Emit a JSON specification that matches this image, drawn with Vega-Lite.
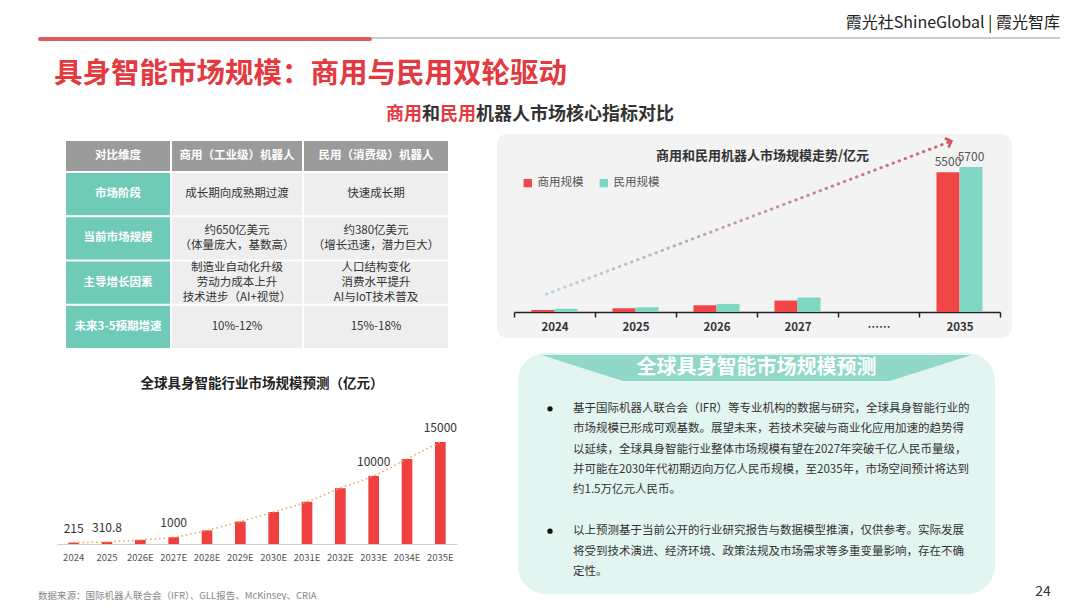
{
  "$schema": "https://vega.github.io/schema/vega-lite/v6.json",
  "background": "white",
  "padding": {"left": 38, "top": 15, "right": 0, "bottom": 0},
  "config": {
    "font": "Noto Sans CJK SC",
    "view": {"stroke": null},
    "concat": {"spacing": 0},
    "title": {"font": "Noto Sans CJK SC"},
    "axis": {"labelFont": "Noto Sans CJK SC", "titleFont": "Noto Sans CJK SC"},
    "legend": {"labelFont": "Noto Sans CJK SC"}
  },
  "resolve": {"scale": {"color": "independent"}, "legend": {"color": "independent"}},
  "spacing": 0,
  "vconcat": [
    {
      "spacing": 0,
      "hconcat": [
        {"width": 334, "height": 4, "view": {"fill": "#e05a5a", "cornerRadius": 2}, "data": {"values": []}, "mark": "point"},
        {
          "width": 688, "height": 2, "view": {"fill": "#cccccc"},
          "title": {"text": "霞光社ShineGlobal | 霞光智库", "anchor": "end", "frame": "group", "fontSize": 16, "fontWeight": "normal", "color": "#222222", "offset": 6},
          "data": {"values": []}, "mark": "point"
        }
      ]
    },
    {"width": 1, "height": 18, "data": {"values": []}, "mark": "point"},
    {
      "width": 984, "height": 20,
      "title": {"text": "具身智能市场规模：商用与民用双轮驱动", "anchor": "start", "frame": "group", "dx": 16, "offset": 17, "fontSize": 28.5, "fontWeight": "bold", "color": "#e4393f"},
      "data": {"values": [
        {"part": "red", "text": "商用\u3000民用\u3000\u3000\u3000\u3000\u3000\u3000\u3000\u3000\u3000\u3000\u3000\u200b"},
        {"part": "dark", "text": "\u200b\u3000\u3000和\u3000\u3000机器人市场核心指标对比"}
      ]},
      "layer": [
        {"transform": [{"filter": {"field": "part", "equal": "dark"}}], "mark": {"type": "text", "fontSize": 18, "fontWeight": "bold", "color": "#333333"}, "encoding": {"text": {"field": "text"}}},
        {"transform": [{"filter": {"field": "part", "equal": "red"}}], "mark": {"type": "text", "fontSize": 18, "fontWeight": "bold", "color": "#e4393f"}, "encoding": {"text": {"field": "text"}}}
      ]
    },
    {"width": 1, "height": 8, "data": {"values": []}, "mark": "point"},
    {
      "spacing": 0,
      "resolve": {"scale": {"color": "independent"}, "legend": {"color": "independent"}},
      "hconcat": [
        {
          "spacing": 0,
          "title": {"text": "数据来源：国际机器人联合会（IFR）、GLL报告、McKinsey、CRIA", "orient": "bottom", "anchor": "start", "frame": "group", "offset": 29, "fontSize": 9.5, "fontWeight": "normal", "color": "#888888"},
          "vconcat": [
            {"width": 1, "height": 7, "data": {"values": []}, "mark": "point"},
            {
              "spacing": 0,
              "hconcat": [
                {"width": 28, "height": 1, "data": {"values": []}, "mark": "point"},
                {
                  "spacing": 2,
                  "vconcat": [
                    {
                      "spacing": 2,
                      "hconcat": [
                        {"width": 104, "height": 30, "view": {"fill": "#9b9b9b"}, "data": {"values": [{"header": "对比维度"}]}, "mark": {"type": "text", "color": "white", "fontSize": 11.5, "fontWeight": "bold"}, "encoding": {"text": {"field": "header"}}},
                        {"width": 130, "height": 30, "view": {"fill": "#9b9b9b"}, "data": {"values": [{"header": "商用（工业级）机器人"}]}, "mark": {"type": "text", "color": "white", "fontSize": 11.5, "fontWeight": "bold"}, "encoding": {"text": {"field": "header"}}},
                        {"width": 144, "height": 30, "view": {"fill": "#9b9b9b"}, "data": {"values": [{"header": "民用（消费级）机器人"}]}, "mark": {"type": "text", "color": "white", "fontSize": 11.5, "fontWeight": "bold"}, "encoding": {"text": {"field": "header"}}}
                      ]
                    },
                    {
                      "spacing": 2,
                      "hconcat": [
                        {
                          "width": 104, "height": 175,
                          "data": {"values": [{"row": "市场阶段"}, {"row": "当前市场规模"}, {"row": "主导增长因素"}, {"row": "未来3-5预期增速"}]},
                          "encoding": {"y": {"field": "row", "type": "nominal", "scale": {"domain": ["市场阶段", "当前市场规模", "主导增长因素", "未来3-5预期增速"], "paddingInner": 0.045, "paddingOuter": 0}, "axis": null}},
                          "layer": [
                            {"mark": {"type": "rect", "color": "#6fcbb8"}},
                            {"mark": {"type": "text", "color": "white", "fontSize": 11.5, "fontWeight": "bold"}, "encoding": {"text": {"field": "row"}}}
                          ]
                        },
                        {
                          "width": 130, "height": 175,
                          "data": {"values": [
                            {"row": "市场阶段", "text": "成长期向成熟期过渡"},
                            {"row": "当前市场规模", "text": "约650亿美元\n（体量庞大，基数高）"},
                            {"row": "主导增长因素", "text": "制造业自动化升级\n劳动力成本上升\n技术进步（AI+视觉）"},
                            {"row": "未来3-5预期增速", "text": "10%-12%"}
                          ]},
                          "encoding": {"y": {"field": "row", "type": "nominal", "scale": {"domain": ["市场阶段", "当前市场规模", "主导增长因素", "未来3-5预期增速"], "paddingInner": 0.045, "paddingOuter": 0}, "axis": null}},
                          "layer": [
                            {"mark": {"type": "rect", "color": "#eeeeee"}},
                            {"transform": [{"filter": "length(split(datum.text, '\\n')) == 1"}], "mark": {"type": "text", "color": "#333333", "fontSize": 11.5}, "encoding": {"text": {"field": "text"}}},
                            {"transform": [{"filter": "length(split(datum.text, '\\n')) == 2"}], "mark": {"type": "text", "color": "#333333", "fontSize": 11.5, "lineBreak": "\n", "lineHeight": 14.5, "dy": -7.25}, "encoding": {"text": {"field": "text"}}},
                            {"transform": [{"filter": "length(split(datum.text, '\\n')) == 3"}], "mark": {"type": "text", "color": "#333333", "fontSize": 11.5, "lineBreak": "\n", "lineHeight": 15, "dy": -15}, "encoding": {"text": {"field": "text"}}}
                          ]
                        },
                        {
                          "width": 144, "height": 175,
                          "data": {"values": [
                            {"row": "市场阶段", "text": "快速成长期"},
                            {"row": "当前市场规模", "text": "约380亿美元\n（增长迅速，潜力巨大）"},
                            {"row": "主导增长因素", "text": "人口结构变化\n消费水平提升\nAI与IoT技术普及"},
                            {"row": "未来3-5预期增速", "text": "15%-18%"}
                          ]},
                          "encoding": {"y": {"field": "row", "type": "nominal", "scale": {"domain": ["市场阶段", "当前市场规模", "主导增长因素", "未来3-5预期增速"], "paddingInner": 0.045, "paddingOuter": 0}, "axis": null}},
                          "layer": [
                            {"mark": {"type": "rect", "color": "#eeeeee"}},
                            {"transform": [{"filter": "length(split(datum.text, '\\n')) == 1"}], "mark": {"type": "text", "color": "#333333", "fontSize": 11.5}, "encoding": {"text": {"field": "text"}}},
                            {"transform": [{"filter": "length(split(datum.text, '\\n')) == 2"}], "mark": {"type": "text", "color": "#333333", "fontSize": 11.5, "lineBreak": "\n", "lineHeight": 14.5, "dy": -7.25}, "encoding": {"text": {"field": "text"}}},
                            {"transform": [{"filter": "length(split(datum.text, '\\n')) == 3"}], "mark": {"type": "text", "color": "#333333", "fontSize": 11.5, "lineBreak": "\n", "lineHeight": 15, "dy": -15}, "encoding": {"text": {"field": "text"}}}
                          ]
                        }
                      ]
                    }
                  ]
                }
              ]
            },
            {"width": 1, "height": 28, "data": {"values": []}, "mark": "point"},
            {
              "spacing": 0,
              "hconcat": [
                {"width": 19, "height": 1, "data": {"values": []}, "mark": "point"},
                {
                  "width": 400, "height": 130,
                  "title": {"text": "全球具身智能行业市场规模预测（亿元）", "anchor": "middle", "frame": "group", "dx": 5, "offset": 24, "fontSize": 13.5, "fontWeight": "bold", "color": "#222222"},
                  "data": {"values": [
                    {"year": "2024", "value": 215},
                    {"year": "2025", "value": 310.8},
                    {"year": "2026E", "value": 600},
                    {"year": "2027E", "value": 1000},
                    {"year": "2028E", "value": 2000},
                    {"year": "2029E", "value": 3300},
                    {"year": "2030E", "value": 4700},
                    {"year": "2031E", "value": 6200},
                    {"year": "2032E", "value": 8200},
                    {"year": "2033E", "value": 10000},
                    {"year": "2034E", "value": 12500},
                    {"year": "2035E", "value": 15000}
                  ]},
                  "encoding": {
                    "x": {"field": "year", "type": "ordinal", "sort": null, "title": null,
                      "scale": {"paddingInner": 0.68, "paddingOuter": 0.34},
                      "axis": {"labelAngle": 0, "ticks": false, "domainColor": "#cfcfcf", "domainWidth": 1.2, "labelColor": "#555555", "labelFontSize": 9.5, "labelPadding": 8}},
                    "y": {"field": "value", "type": "quantitative", "scale": {"domain": [0, 19100], "nice": false}, "axis": null}
                  },
                  "layer": [
                    {"mark": {"type": "bar", "color": "#ef3f3f"}},
                    {"mark": {"type": "line", "color": "#eaa35a", "strokeDash": [1.5, 3], "strokeWidth": 1.5, "interpolate": "monotone"}},
                    {
                      "transform": [{"filter": {"field": "year", "oneOf": ["2024", "2025", "2027E", "2033E", "2035E"]}}],
                      "mark": {"type": "text", "baseline": "bottom", "dy": -7, "fontSize": 12, "color": "#333333"},
                      "encoding": {"text": {"field": "value", "type": "quantitative"}}
                    }
                  ]
                }
              ]
            }
          ]
        },
        {"width": 40, "height": 1, "data": {"values": []}, "mark": "point"},
        {
          "spacing": 0,
          "resolve": {"scale": {"color": "independent"}, "legend": {"color": "independent"}},
          "vconcat": [
            {
              "width": 515, "height": 204,
              "view": {"fill": "#f3f3f3", "cornerRadius": 10},
              "title": {"text": "商用和民用机器人市场规模走势/亿元", "anchor": "middle", "frame": "group", "dx": 8, "offset": -30, "fontSize": 13, "fontWeight": "bold", "color": "#333333"},
              "layer": [
                {
                  "data": {"values": [
                    {"year": "2024", "type": "商用规模", "value": 80},
                    {"year": "2024", "type": "民用规模", "value": 130},
                    {"year": "2025", "type": "商用规模", "value": 145},
                    {"year": "2025", "type": "民用规模", "value": 185},
                    {"year": "2026", "type": "商用规模", "value": 265},
                    {"year": "2026", "type": "民用规模", "value": 317},
                    {"year": "2027", "type": "商用规模", "value": 450},
                    {"year": "2027", "type": "民用规模", "value": 570},
                    {"year": "2035", "type": "商用规模", "value": 5500},
                    {"year": "2035", "type": "民用规模", "value": 5700}
                  ]},
                  "mark": {"type": "bar"},
                  "encoding": {
                    "x": {"field": "year", "type": "ordinal", "scale": {"domain": ["2024", "2025", "2026", "2027", "……", "2035"], "range": [17, 503], "paddingInner": 0, "paddingOuter": 0},
                      "axis": {"title": null, "orient": "bottom", "offset": -26, "labelAngle": 0, "domainColor": "#222222", "domainWidth": 1.5, "tickBand": "extent", "tickColor": "#222222", "tickSize": 5, "tickWidth": 1.5, "labelColor": "#333333", "labelFontSize": 11.5, "labelFontWeight": "bold", "labelPadding": 4}},
                    "xOffset": {"field": "type", "type": "nominal", "scale": {"domain": ["商用规模", "民用规模"], "paddingOuter": 0.76, "paddingInner": 0}},
                    "y": {"field": "value", "type": "quantitative", "scale": {"domain": [0, 7000], "range": [178, 0], "nice": false}, "axis": null},
                    "color": {"field": "type", "type": "nominal", "scale": {"domain": ["商用规模", "民用规模"], "range": ["#f04646", "#7fd6c3"]},
                      "legend": {"title": null, "orient": "none", "legendX": 25, "legendY": 43, "direction": "horizontal", "symbolType": "square", "symbolSize": 70, "labelFontSize": 11.5, "labelColor": "#555555", "columnPadding": 14}}
                  }
                },
                {
                  "data": {"values": [
                    {"year": "2035", "type": "商用规模", "value": 5500},
                    {"year": "2035", "type": "民用规模", "value": 5700}
                  ]},
                  "mark": {"type": "text", "baseline": "bottom", "dy": -3, "fontSize": 12, "color": "#555555"},
                  "encoding": {
                    "x": {"field": "year", "type": "ordinal"},
                    "xOffset": {"field": "type", "type": "nominal"},
                    "y": {"field": "value", "type": "quantitative"},
                    "text": {"field": "value", "type": "quantitative"}
                  }
                },
                {
                  "data": {"values": [{"year": "2024", "trend": 700}, {"year": "2035", "trend": 6720}]},
                  "mark": {"type": "line", "strokeDash": [0.5, 6], "strokeCap": "round", "strokeWidth": 3,
                    "stroke": {"gradient": "linear", "stops": [{"offset": 0, "color": "#b9d5e2"}, {"offset": 1, "color": "#cf5f70"}]}},
                  "encoding": {
                    "x": {"field": "year", "type": "ordinal", "bandPosition": 0.4},
                    "y": {"field": "trend", "type": "quantitative"}
                  }
                },
                {
                  "data": {"values": [{"year": "2024", "trend": 700}, {"year": "2035", "trend": 6720}]},
                  "transform": [{"filter": {"field": "year", "equal": "2035"}}],
                  "mark": {"type": "point", "shape": "M-1,-1L0,0L-1,1", "filled": false, "size": 100, "strokeWidth": 2.5, "color": "#d4505f", "angle": 339, "opacity": 1},
                  "encoding": {
                    "x": {"field": "year", "type": "ordinal", "bandPosition": 0.4},
                    "y": {"field": "trend", "type": "quantitative"}
                  }
                }
              ]
            },
            {"width": 1, "height": 15, "data": {"values": []}, "mark": "point"},
            {
              "spacing": 0,
              "hconcat": [
                {"width": 21, "height": 1, "data": {"values": []}, "mark": "point"},
                {
                  "width": 477, "height": 241,
                  "view": {"fill": "#e2f5f1", "cornerRadius": 28},
                  "data": {"values": [
                    {"line": "h", "part": "banner", "text": "全球具身智能市场规模预测"},
                    {"line": "1", "part": "bullet", "text": "●"},
                    {"line": "1", "part": "text", "text": "基于国际机器人联合会（IFR）等专业机构的数据与研究，全球具身智能行业的"},
                    {"line": "2", "part": "text", "text": "市场规模已形成可观基数。展望未来，若技术突破与商业化应用加速的趋势得"},
                    {"line": "3", "part": "text", "text": "以延续，全球具身智能行业整体市场规模有望在2027年突破千亿人民币量级，"},
                    {"line": "4", "part": "text", "text": "并可能在2030年代初期迈向万亿人民币规模，至2035年，市场空间预计将达到"},
                    {"line": "5", "part": "text", "text": "约1.5万亿元人民币。"},
                    {"line": "6", "part": "bullet", "text": "●"},
                    {"line": "6", "part": "text", "text": "以上预测基于当前公开的行业研究报告与数据模型推演，仅供参考。实际发展"},
                    {"line": "7", "part": "text", "text": "将受到技术演进、经济环境、政策法规及市场需求等多重变量影响，存在不确"},
                    {"line": "8", "part": "text", "text": "定性。"}
                  ]},
                  "encoding": {
                    "y": {"field": "line", "type": "ordinal", "scale": {"type": "point", "domain": ["h", "s1", "1", "2", "3", "4", "5", "s2", "6", "7", "8"], "padding": 0.907, "align": 0.405}, "axis": null}
                  },
                  "layer": [
                    {
                      "transform": [{"filter": {"field": "part", "equal": "banner"}}],
                      "mark": {"type": "point", "shape": "M-1,-0.0605L1,-0.0605L0.621,0.0605L-0.621,0.0605Z", "filled": true, "size": 184900, "color": "#8fd8c8", "opacity": 1, "strokeWidth": 0}
                    },
                    {
                      "transform": [{"filter": {"field": "part", "equal": "banner"}}],
                      "mark": {"type": "text", "color": "white", "fontSize": 20, "fontWeight": "bold"},
                      "encoding": {"text": {"field": "text"}}
                    },
                    {
                      "transform": [{"filter": {"field": "part", "equal": "bullet"}}],
                      "mark": {"type": "point", "shape": "circle", "filled": true, "size": 28, "color": "#111111", "opacity": 1},
                      "encoding": {"x": {"field": "part", "type": "nominal", "scale": {"type": "point", "domain": ["bullet", "text"], "range": [32, 55], "padding": 0}, "axis": null}}
                    },
                    {
                      "transform": [{"filter": {"field": "part", "equal": "text"}}],
                      "mark": {"type": "text", "align": "left", "fontSize": 11.5, "color": "#333333"},
                      "encoding": {
                        "x": {"field": "part", "type": "nominal", "axis": null},
                        "text": {"field": "text"}
                      }
                    }
                  ]
                },
                {"width": 40, "height": 1, "data": {"values": []}, "mark": "point"},
                {
                  "width": 10, "height": 232, "data": {"values": []}, "mark": "point",
                  "title": {"text": "24", "orient": "bottom", "anchor": "middle", "frame": "group", "offset": 0, "fontSize": 14, "fontWeight": "normal", "color": "#333333"}
                }
              ]
            }
          ]
        }
      ]
    }
  ]
}
